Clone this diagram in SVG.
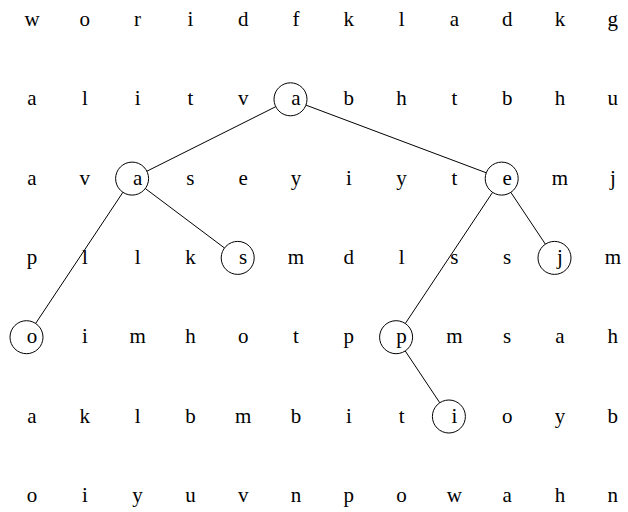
<svg xmlns="http://www.w3.org/2000/svg" width="628" height="512" viewBox="0 0 628 512">
<style>
.c{fill:none;stroke:#000;stroke-width:1}
.e{stroke:#000;stroke-width:1;fill:none}
.t{font-family:'Liberation Serif','Times New Roman',Times,serif;font-size:21px;font-weight:normal;fill:#000;text-anchor:middle}
</style>
<rect width="628" height="512" fill="#fff"/>
<g id="grid" class="t" style="font-family:'Liberation Serif',serif;font-size:21px">
<g id="row1"><text x="32" y="26">w</text><text x="84.8" y="26">o</text><text x="137.6" y="26">r</text><text x="190.4" y="26">i</text><text x="243.2" y="26">d</text><text x="296" y="26">f</text><text x="348.8" y="26">k</text><text x="401.6" y="26">l</text><text x="454.4" y="26">a</text><text x="507.2" y="26">d</text><text x="560" y="26">k</text><text x="612.8" y="26">g</text></g>
<g id="row2"><text x="32" y="105.3">a</text><text x="84.8" y="105.3">l</text><text x="137.6" y="105.3">i</text><text x="190.4" y="105.3">t</text><text x="243.2" y="105.3">v</text><text x="348.8" y="105.3">b</text><text x="401.6" y="105.3">h</text><text x="454.4" y="105.3">t</text><text x="507.2" y="105.3">b</text><text x="560" y="105.3">h</text><text x="612.8" y="105.3">u</text></g>
<g id="row3"><text x="32" y="184.6">a</text><text x="84.8" y="184.6">v</text><text x="190.4" y="184.6">s</text><text x="243.2" y="184.6">e</text><text x="296" y="184.6">y</text><text x="348.8" y="184.6">i</text><text x="401.6" y="184.6">y</text><text x="454.4" y="184.6">t</text><text x="560" y="184.6">m</text><text x="612.8" y="184.6">j</text></g>
<g id="row4"><text x="32" y="263.9">p</text><text x="84.8" y="263.9">l</text><text x="137.6" y="263.9">l</text><text x="190.4" y="263.9">k</text><text x="296" y="263.9">m</text><text x="348.8" y="263.9">d</text><text x="401.6" y="263.9">l</text><text x="454.4" y="263.9">s</text><text x="507.2" y="263.9">s</text><text x="612.8" y="263.9">m</text></g>
<g id="row5"><text x="84.8" y="343.2">i</text><text x="137.6" y="343.2">m</text><text x="190.4" y="343.2">h</text><text x="243.2" y="343.2">o</text><text x="296" y="343.2">t</text><text x="348.8" y="343.2">p</text><text x="454.4" y="343.2">m</text><text x="507.2" y="343.2">s</text><text x="560" y="343.2">a</text><text x="612.8" y="343.2">h</text></g>
<g id="row6"><text x="32" y="422.5">a</text><text x="84.8" y="422.5">k</text><text x="137.6" y="422.5">l</text><text x="190.4" y="422.5">b</text><text x="243.2" y="422.5">m</text><text x="296" y="422.5">b</text><text x="348.8" y="422.5">i</text><text x="401.6" y="422.5">t</text><text x="507.2" y="422.5">o</text><text x="560" y="422.5">y</text><text x="612.8" y="422.5">b</text></g>
<g id="row7"><text x="32" y="501.8">o</text><text x="84.8" y="501.8">i</text><text x="137.6" y="501.8">y</text><text x="190.4" y="501.8">u</text><text x="243.2" y="501.8">v</text><text x="296" y="501.8">n</text><text x="348.8" y="501.8">p</text><text x="401.6" y="501.8">o</text><text x="454.4" y="501.8">w</text><text x="507.2" y="501.8">a</text><text x="560" y="501.8">h</text><text x="612.8" y="501.8">n</text></g>
</g>
<g id="edges">
<line class="e" x1="275.7" y1="106.7" x2="146.9" y2="171.2"/>
<line class="e" x1="305.9" y1="105.1" x2="486.3" y2="172.8"/>
<line class="e" x1="122.9" y1="192.3" x2="35.6" y2="323.5"/>
<line class="e" x1="145.3" y1="188.5" x2="224.5" y2="248.0"/>
<line class="e" x1="492.6" y1="192.3" x2="405.3" y2="323.5"/>
<line class="e" x1="510.8" y1="192.3" x2="545.4" y2="244.2"/>
<line class="e" x1="405.2" y1="350.9" x2="439.8" y2="402.8"/>
</g>
<g id="nodes" class="t" style="font-family:'Liberation Serif',serif;font-size:21px">
<g id="node-a1"><circle class="c" cx="290.5" cy="99.3" r="16.5"/><text x="296" y="105.3">a</text></g>
<g id="node-a2"><circle class="c" cx="132.1" cy="178.6" r="16.5"/><text x="137.6" y="184.6">a</text></g>
<g id="node-e"><circle class="c" cx="501.7" cy="178.6" r="16.5"/><text x="507.2" y="184.6">e</text></g>
<g id="node-s"><circle class="c" cx="237.7" cy="257.9" r="16.5"/><text x="243.2" y="263.9">s</text></g>
<g id="node-j"><circle class="c" cx="554.5" cy="257.9" r="16.5"/><text x="560" y="263.9">j</text></g>
<g id="node-o"><circle class="c" cx="26.5" cy="337.2" r="16.5"/><text x="32" y="343.2">o</text></g>
<g id="node-p"><circle class="c" cx="396.1" cy="337.2" r="16.5"/><text x="401.6" y="343.2">p</text></g>
<g id="node-i"><circle class="c" cx="448.9" cy="416.5" r="16.5"/><text x="454.4" y="422.5">i</text></g>
</g>
</svg>
